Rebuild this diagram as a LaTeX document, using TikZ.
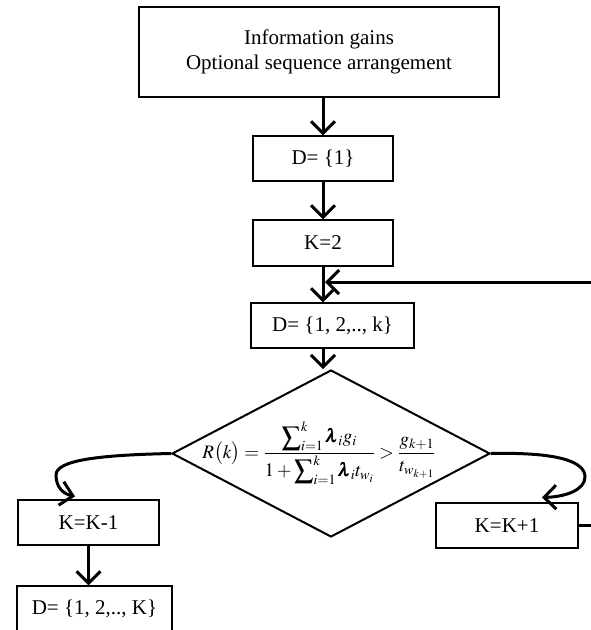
\documentclass[tikz,border=0pt]{standalone}
\usepackage{amsmath}
\usepackage{mathptmx}
\usepackage[no-math]{fontspec}
\setmainfont{Liberation Serif}
\usetikzlibrary{arrows.meta,shapes.geometric}
\tikzset{
  box/.style={draw, line width=1.2pt, inner sep=0pt, align=center,
    font=\fontsize{21}{25}\selectfont},
  dec/.style={draw, shape=diamond, line width=2pt, inner sep=0pt,
    minimum width=318pt, minimum height=167pt, aspect=1.9},
  arr/.style={line width=3pt, -{Straight Barb[length=12pt,width=24pt]}},
  link/.style={line width=3pt},
}
\newcommand{\blam}{\pmb{\lambda}}
\begin{document}
\begin{tikzpicture}[x=1pt,y=-1pt]
\useasboundingbox (0,0) rectangle (591,630);
\clip (0,0) rectangle (591,630);
\node[box, minimum width=360pt, minimum height=90pt] (top) at (319,52)
  {Information gains\\Optional sequence arrangement};
\node[box, minimum width=140pt, minimum height=45pt] (d1) at (323,158.5) {D= \{1\}};
\node[box, minimum width=140pt, minimum height=46pt] (k2) at (323,243) {K=2};
\node[box, minimum width=163pt, minimum height=45pt] (dk) at (332.5,325.5) {D= \{1, 2,.., k\}};
\node[dec] (dia) at (331,453.5)
  {\makebox[0pt][c]{\hspace*{-24pt}\fontsize{19}{21}\selectfont$\displaystyle R\bigl(k\bigr)=\frac{\displaystyle\sum\nolimits_{i=1}^{k}\blam_i g_i}{\displaystyle 1+\sum\nolimits_{i=1}^{k}\blam_i t_{w_i}}>\frac{\displaystyle g_{k+1}}{\displaystyle t_{w_{k+1}}}$}};
\node[box, minimum width=141pt, minimum height=45pt] (km1) at (88.5,522.5) {K=K-1};
\node[box, minimum width=142pt, minimum height=45pt] (kp1) at (507,525.5) {K=K+1};
\node[box, minimum width=155pt, minimum height=46pt] (dK) at (94.5,609) {D= \{1, 2,.., K\}};
\coordinate (fbR) at (591,282);
\coordinate (fbB) at (591,525.5);
% main chain
\draw[arr] (top.south -| d1.north) -- (d1.north);
\draw[arr] (d1.south) -- (k2.north);
\draw[arr] (k2.south) -- (k2.south |- dk.north);
\draw[arr] (dk.south -| k2.south) -- (k2.south |- dia.north);
% feedback
\draw[arr, shorten >=0.5pt] (fbR) -- ([xshift=1.5pt]k2.south |- fbR);
\draw[link] (kp1.east) -- (fbB);
% branches
\draw[arr] (dia.east) .. controls (560,452) and (585,462) .. (585,477)
  .. controls (585,490) and (565,497) .. ([xshift=35pt,yshift=5pt]kp1.north);
\draw[arr] (dia.west) .. controls (100,455) and (56,460) .. (56,475)
  .. controls (56,488) and (64,494) .. ([xshift=-13.5pt,yshift=3pt]km1.north);
\draw[arr] (km1.south) -- (km1.south |- dK.north);
\end{tikzpicture}
\end{document}
